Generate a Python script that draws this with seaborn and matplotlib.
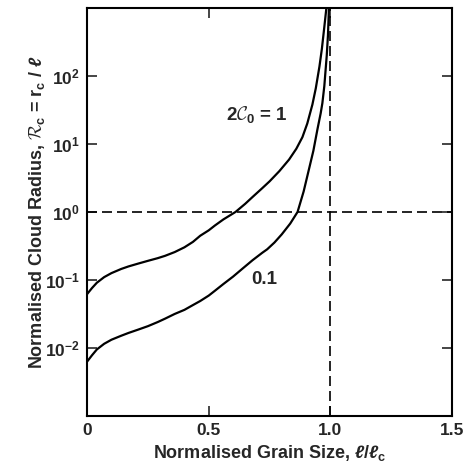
import numpy as np
import matplotlib
matplotlib.use('Agg')
import matplotlib.pyplot as plt
import seaborn as sns

# values (x = l/lc, y = Rc)
x_upper = [0.0, 0.02, 0.04, 0.07, 0.10, 0.14, 0.17, 0.21, 0.25, 0.29, 0.32, 0.36,
           0.40, 0.435, 0.465, 0.50, 0.525, 0.56, 0.61, 0.65, 0.68, 0.72, 0.75,
           0.79, 0.83, 0.86, 0.885, 0.905, 0.926, 0.94, 0.955, 0.965, 0.975,
           0.985, 0.995]
y_upper = [0.062, 0.076, 0.091, 0.110, 0.126, 0.145, 0.158, 0.174, 0.191, 0.209,
           0.226, 0.257, 0.302, 0.363, 0.447, 0.537, 0.631, 0.776, 1.0, 1.32,
           1.66, 2.24, 2.82, 3.98, 5.89, 8.51, 12.6, 20.0, 38.0, 66.0, 138,
           251, 525, 1120, 3160]

x_lower = [0.0, 0.02, 0.04, 0.07, 0.10, 0.14, 0.17, 0.21, 0.25, 0.29, 0.32, 0.36,
           0.40, 0.435, 0.465, 0.50, 0.525, 0.56, 0.60, 0.64, 0.68, 0.72, 0.74,
           0.77, 0.80, 0.835, 0.865, 0.89, 0.914, 0.93, 0.947, 0.96, 0.967,
           0.975, 0.985, 0.99, 0.995]
y_lower = [0.0063, 0.0078, 0.0095, 0.0115, 0.0132, 0.0151, 0.0166, 0.0186, 0.0209,
           0.024, 0.0269, 0.0316, 0.0363, 0.0427, 0.049, 0.0589, 0.0692, 0.087,
           0.112, 0.148, 0.195, 0.251, 0.282, 0.355, 0.468, 0.676, 1.0, 2.0,
           4.57, 7.94, 16.6, 28.2, 39.8, 70.8, 200, 398, 1260]

x_ticks = [0, 0.5, 1.0, 1.5]
x_ticklabels = ['0', '0.5', '1.0', '1.5']
y_ticks = [1e-2, 1e-1, 1e0, 1e1, 1e2]
y_ticklabels = [r'$\mathbf{10^{-2}}$', r'$\mathbf{10^{-1}}$', r'$\mathbf{10^{0}}$',
                r'$\mathbf{10^{1}}$', r'$\mathbf{10^{2}}$']

sns.set_style('ticks')
plt.rcParams['font.family'] = ['Liberation Sans', 'DejaVu Sans']
plt.rcParams['font.weight'] = 'bold'
plt.rcParams['mathtext.fontset'] = 'custom'
plt.rcParams['mathtext.rm'] = 'Liberation Sans:bold'
plt.rcParams['mathtext.bf'] = 'Liberation Sans:bold'
plt.rcParams['mathtext.it'] = 'Liberation Sans:italic:bold'
plt.rcParams['mathtext.cal'] = 'cmsy10'

fig = plt.figure(figsize=(4.66, 4.71), dpi=100)
ax = fig.add_axes([0.187, 0.117, 0.783, 0.866])

sns.lineplot(x=x_upper, y=y_upper, ax=ax, color='black', lw=1.6, sort=False)
sns.lineplot(x=x_lower, y=y_lower, ax=ax, color='black', lw=1.6, sort=False)

ax.axhline(1.0, color='black', lw=1.2, ls=(0, (6, 3)))
ax.axvline(1.0, color='black', lw=1.2, ls=(0, (6, 3)))

ax.set_yscale('log')
ax.set_xlim(0, 1.5)
ax.set_ylim(1e-3, 1e3)
ax.set_xticks(x_ticks)
ax.set_xticklabels(x_ticklabels)
ax.set_yticks(y_ticks)
ax.set_yticklabels(y_ticklabels)
ax.yaxis.set_minor_locator(matplotlib.ticker.NullLocator())
ax.tick_params(direction='in', length=7, width=1.2, top=True, right=True,
               labelsize=12.5, pad=5)
for s in ax.spines.values():
    s.set_linewidth(1.5)
    s.set_color('black')

ax.set_xlabel(r'Normalised Grain Size, $\ell/\ell_\mathbf{c}$', fontsize=13,
              fontweight='bold', labelpad=4)
ax.set_ylabel(r'Normalised Cloud Radius, $\mathcal{R}_\mathbf{c}$ = r$_\mathbf{c}$ / $\ell$',
              fontsize=13, fontweight='bold', labelpad=-1)

ax.text(0.697, 10**1.43, r'2$\mathcal{C}_\mathbf{0}$ = 1', fontsize=13.5,
        fontweight='bold', ha='center', va='center')
ax.text(0.73, 10**-1.0, '0.1', fontsize=13.5, fontweight='bold',
        ha='center', va='center')

fig.savefig('out.png', dpi=100)
